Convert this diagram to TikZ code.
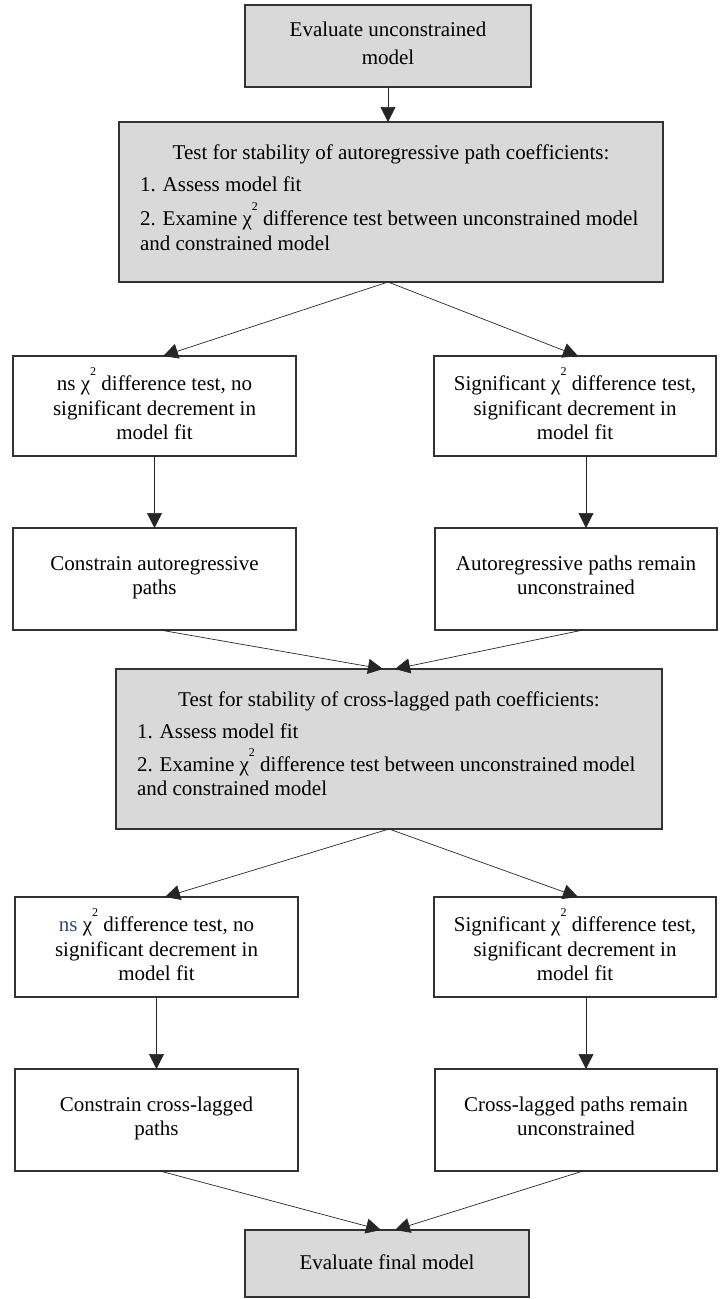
\documentclass[tikz,border=0pt]{standalone}
\usepackage{fontspec}
\setmainfont{Liberation Serif}
\usetikzlibrary{arrows.meta}
\definecolor{boxgray}{HTML}{D9D9D9}
\definecolor{edgegray}{HTML}{333333}
\definecolor{nsblue}{HTML}{2B4C7E}
% chi-square with a high, small superscript
\newcommand\chisq{χ\raisebox{15pt}{\fontsize{12}{12}\selectfont 2}}

\begin{document}
\begin{tikzpicture}[x=1pt,y=-1pt,
  box/.style={rectangle,draw=edgegray,line width=1.2pt,fill=white,inner sep=0pt,outer sep=0pt},
  shaded/.style={box,fill=boxgray},
  txt/.style={inner sep=0pt,outer sep=0pt,font=\fontsize{21}{24.5}\selectfont,anchor=mid},
  lefttxt/.style={txt,anchor=mid west},
  arr/.style={-{Triangle[length=15pt,width=15pt]},line width=0.7pt,draw=black!85}]

\useasboundingbox (0,0) rectangle (725,1299);

% start
\node[shaded,minimum width=286pt,minimum height=82pt] (T) at (388,46) {};
\node[txt] (T1) at (388,34) {Evaluate unconstrained};
\node[txt] (T2) at (388,62) {model};

% autoregressive stability test
\node[shaded,minimum width=544pt,minimum height=160pt] (P) at (391,202) {};
\node[txt] (P1) at (391,157) {Test for stability of autoregressive path coefficients:};
\node[lefttxt] (P2) at (140,189) {1. Assess model fit};
\node[lefttxt] (P3) at (140,223) {2. Examine \chisq\ difference test between unconstrained model};
\node[lefttxt] (P4) at (140,248) {and constrained model};

% outcomes of the first test
\node[box,minimum width=283pt,minimum height=100pt] (A) at (154.5,406) {};
\node[txt] (A1) at (154.5,388) {ns \chisq\ difference test, no};
\node[txt] (A2) at (154.5,413) {significant decrement in};
\node[txt] (A3) at (154.5,437) {model fit};

\node[box,minimum width=282pt,minimum height=100pt] (B) at (575,406) {};
\node[txt] (B1) at (575,388) {Significant \chisq\ difference test,};
\node[txt] (B2) at (575,413) {significant decrement in};
\node[txt] (B3) at (575,437) {model fit};

\node[box,minimum width=283pt,minimum height=102pt] (C) at (154.5,579) {};
\node[txt] (C1) at (154.5,568) {Constrain autoregressive};
\node[txt] (C2) at (154.5,592) {paths};

\node[box,minimum width=282pt,minimum height=102pt] (D) at (576,579) {};
\node[txt] (D1) at (576,568) {Autoregressive paths remain};
\node[txt] (D2) at (576,592) {unconstrained};

% cross-lagged stability test
\node[shaded,minimum width=546pt,minimum height=160pt] (E) at (389,749) {};
\node[txt] (E1) at (389,704) {Test for stability of cross-lagged path coefficients:};
\node[lefttxt] (E2) at (137,736) {1. Assess model fit};
\node[lefttxt] (E3) at (137,769) {2. Examine \chisq\ difference test between unconstrained model};
\node[lefttxt] (E4) at (137,793) {and constrained model};

% outcomes of the second test
\node[box,minimum width=283pt,minimum height=100pt] (F) at (156.5,947) {};
\node[txt] (F1) at (156.5,929) {\textcolor{nsblue}{ns} \chisq\ difference test, no};
\node[txt] (F2) at (156.5,954) {significant decrement in};
\node[txt] (F3) at (156.5,978) {model fit};

\node[box,minimum width=282pt,minimum height=100pt] (G) at (575,947) {};
\node[txt] (G1) at (575,929) {Significant \chisq\ difference test,};
\node[txt] (G2) at (575,954) {significant decrement in};
\node[txt] (G3) at (575,978) {model fit};

\node[box,minimum width=283pt,minimum height=102pt] (H) at (156.5,1120) {};
\node[txt] (H1) at (156.5,1109) {Constrain cross-lagged};
\node[txt] (H2) at (156.5,1133) {paths};

\node[box,minimum width=282pt,minimum height=102pt] (I) at (576,1120) {};
\node[txt] (I1) at (576,1109) {Cross-lagged paths remain};
\node[txt] (I2) at (576,1133) {unconstrained};

% end
\node[shaded,minimum width=284pt,minimum height=67pt] (Z) at (387,1263.5) {};
\node[txt] (Z1) at (387,1267) {Evaluate final model};

% connectors
\draw[arr] (T.south) -- (T.south |- P.north);
\draw[arr] ([xshift=-3pt]P.south) -- ([xshift=8.5pt]A.north);
\draw[arr] ([xshift=-3pt]P.south) -- ([xshift=3pt]B.north);
\draw[arr] (A.south) -- (C.north);
\draw[arr] ([xshift=11pt]B.south) -- ([xshift=11pt]B.south |- D.north);
\draw[arr] ([xshift=5.5pt]C.south) -- ([xshift=-6pt]E.north);
\draw[arr] ([xshift=7pt]D.south) -- ([xshift=6pt]E.north);
\draw[arr] (E.south) -- ([xshift=8.5pt]F.north);
\draw[arr] (E.south) -- ([xshift=3pt]G.north);
\draw[arr] (F.south) -- (H.north);
\draw[arr] ([xshift=11pt]G.south) -- ([xshift=11pt]G.south |- I.north);
\draw[arr] ([xshift=3.5pt]H.south) -- ([xshift=-6pt]Z.north);
\draw[arr] ([xshift=7pt]I.south) -- ([xshift=8pt]Z.north);
\end{tikzpicture}
\end{document}
